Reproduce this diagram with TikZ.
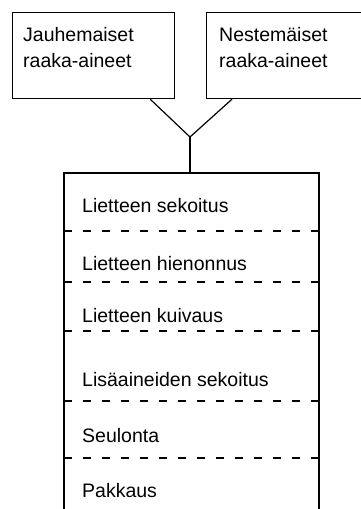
\documentclass[tikz,border=0pt]{standalone}
\usepackage{fontspec}
\setmainfont{Liberation Sans}
\usetikzlibrary{calc}
\begin{document}
\begin{tikzpicture}[x=1pt,y=-1pt,
  every node/.style={font=\fontsize{19.5}{26}\selectfont},
  inbox/.style={draw, line width=1.2pt, minimum width=#1, minimum height=86pt, inner sep=0pt, anchor=north west},
  lbl/.style={anchor=base west, inner sep=0pt, align=left},
  stage/.style={anchor=base west, inner sep=0pt},
  frame/.style={line width=1.2pt},
  sep/.style={line width=1.1pt, dash pattern=on 8pt off 11pt},
  conn/.style={line width=1.2pt}]
\useasboundingbox[fill=white] (0,0) rectangle (361,509);
% input boxes
\node[inbox=162pt] (jb) at (12,12) {};
\node[inbox=157pt] (nb) at (206,12) {};
\node[lbl] (jt) at (23,67) {Jauhemaiset\\raaka-aineet};
\node[lbl] (nt) at (219,67) {Nestemäiset\\raaka-aineet};
% junction
\coordinate (j) at (190,137);
\coordinate (mtop) at (190,173);
\draw[conn] ([xshift=-25pt]jb.south east) -- (j) -- ([xshift=26pt]nb.south west);
\draw[conn] (j) -- (mtop);
% main process frame
\coordinate (ml) at (64,173);
\coordinate (mr) at (319,173);
\draw[frame] (64,510) -- (ml) -- (mr) -- (319,510);
% separators
\foreach \y in {231,282,331,401,458}{
  \draw[sep] (64,\y) -- (319,\y);
}
% stages
\node[stage] (s1) at (82,212) {Lietteen sekoitus};
\node[stage] (s2) at (82,270) {Lietteen hienonnus};
\node[stage] (s3) at (82,322) {Lietteen kuivaus};
\node[stage] (s4) at (82,386) {Lisäaineiden sekoitus};
\node[stage] (s5) at (82,442) {Seulonta};
\node[stage] (s6) at (82,497) {Pakkaus};
\end{tikzpicture}
\end{document}
